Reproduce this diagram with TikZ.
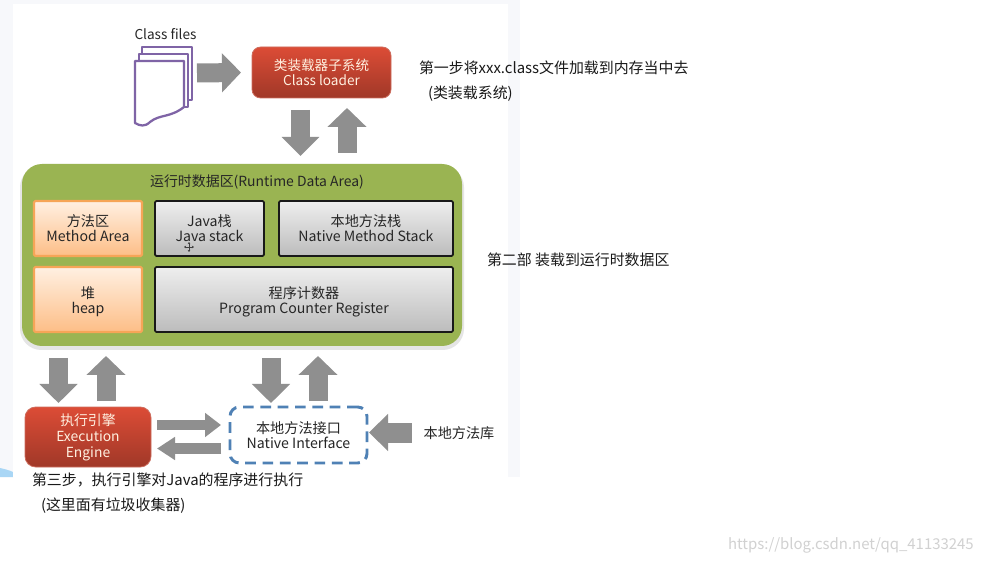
\documentclass[tikz,border=0pt]{standalone}
\usepackage{fontspec}
\setmainfont{Noto Sans CJK SC}
\usetikzlibrary{arrows.meta,shadings}
\definecolor{paneltint}{HTML}{F7F8FB}
\definecolor{patchblue}{HTML}{A9D6F5}
\definecolor{green1}{HTML}{9AB452}
\definecolor{arrowgrey}{HTML}{8F8F8F}
\definecolor{docpurple}{HTML}{7F64A6}
\definecolor{dashblue}{HTML}{4F81B5}
\definecolor{orangeedge}{HTML}{F6A557}
\definecolor{txt}{HTML}{262626}
\tikzset{
  dpx/.style 2 args={xshift=#1*.75pt,yshift=#2*-.75pt},
  base/.style={inner sep=0pt,outer sep=0pt,align=center,font=\fontsize{10.6}{11.4}\selectfont,text=txt},
  redfill/.style={base,rounded corners=6.5pt,top color={rgb,255:red,220;green,76;blue,54},bottom color={rgb,255:red,160;green,56;blue,40},draw={rgb,255:red,205;green,110;blue,95},line width=.6pt,text=white!88!orange},
  orangebox/.style={base,rounded corners=1pt,top color={rgb,255:red,255;green,240;blue,226},bottom color={rgb,255:red,253;green,190;blue,135},draw=orangeedge,line width=1.6pt},
  greybox/.style={base,rounded corners=1pt,top color={rgb,255:red,238;green,238;blue,238},bottom color={rgb,255:red,188;green,188;blue,188},draw=black!90,line width=1.3pt},
  note/.style={inner sep=0pt,outer sep=0pt,anchor=west,font=\fontsize{11.2}{12}\selectfont,text=black!90},
  bigarrow/.style n args={3}{draw=arrowgrey,line width=#1,-{Triangle[length=#3,width=#2]}},
  docpage/.style={draw=docpurple,line width=1.7pt,fill=white,line join=round},
}
\begin{document}
\begin{tikzpicture}[x=.75pt,y=-.75pt]
\useasboundingbox (0,0) rectangle (983,563);
\fill[white] (0,0) rectangle (983,563);
\fill[paneltint] (0,0) rectangle (520,477);
\fill[patchblue] (0,468) .. controls (4,469) and (9,470) .. (13,472) -- (13,477) -- (0,477) -- cycle;
\fill[white] (13,4) rectangle (508,477);

% class files icon
\draw[docpage] (142,47) -- (192,47) -- (192,100) -- (142,100) -- cycle;
\draw[docpage] (139,54) -- (188,54) -- (188,107) -- (139,107) -- cycle;
\draw[docpage] (135,61) -- (184,61) -- (184,107) .. controls (170,118) and (160,114) .. (150,122) .. controls (145,127) and (140,126) .. (135,123) -- cycle;
\node[inner sep=0pt,outer sep=0pt,minimum width=57*.75pt,minimum height=78*.75pt] (doc) at (163.5,86) {};
\node[base,font=\fontsize{10.2}{11.4}\selectfont] (files) at (165.5,34) {Class files};

% main boxes
\node[redfill,font=\fontsize{10.2}{11.6}\selectfont,minimum width=139*.75pt,minimum height=51*.75pt] (loader) at (321.5,72.5) {类装载器子系统\\Class loader};

\fill[black!10,rounded corners=16pt] (20,166) rectangle (464,350);
\node[base,fill=green1,rounded corners=15pt,minimum width=440*.75pt,minimum height=182*.75pt] (runtime) at (242,255) {};
\node[base,font=\fontsize{10.45}{11.4}\selectfont] (rtitle) at (257,182) {运行时数据区(Runtime Data Area)};

\node[orangebox,minimum width=108*.75pt,minimum height=55*.75pt] (method) at (88,228.5) {方法区\\Method Area};
\node[orangebox,minimum width=108*.75pt,minimum height=65*.75pt] (heap) at (88,299.5) {\rule{0pt}{12pt}堆\\heap};
\node[greybox,minimum width=109*.75pt,minimum height=55*.75pt] (jstack) at (209.5,228.5) {Java栈\\Java stack};
\node[greybox,minimum width=174*.75pt,minimum height=55*.75pt] (nstack) at (366,228.5) {本地方法栈\\Native Method Stack};
\node[greybox,minimum width=298*.75pt,minimum height=65*.75pt] (pcr) at (304,299.5) {\rule{0pt}{12pt}程序计数器\\Program Counter Register};

\node[redfill,font=\fontsize{10.4}{12}\selectfont,rounded corners=8pt,minimum width=126*.75pt,minimum height=60*.75pt] (exec) at (88,437) {执行引擎\\Execution\\Engine};
\node[base,draw=dashblue,line width=2.2pt,dash pattern=on 8pt off 5pt,rounded corners=7pt,fill=white,minimum width=137*.75pt,minimum height=56*.75pt] (native) at (298.5,435) {本地方法接口\\Native Interface};
\node[base] (lib) at (459,433) {本地方法库};

% move cursor
\coordinate (cur) at (189,247);
\draw[black!75,line width=.5pt,{Stealth[length=1.6pt,width=2pt]}-{Stealth[length=1.6pt,width=2pt]}] ([dpx={-5}{0}]cur) -- ([dpx={5}{0}]cur);
\draw[black!75,line width=.5pt,{Stealth[length=1.6pt,width=2pt]}-{Stealth[length=1.6pt,width=2pt]}] ([dpx={0}{-5}]cur) -- ([dpx={0}{5}]cur);

% block arrows
\draw[bigarrow={14.25pt}{28.5pt}{14.25pt}] ([dpx={5}{-13}]doc.east) -- ([dpx={-11}{0}]loader.west);
\draw[bigarrow={14.25pt}{27.5pt}{14.25pt}] ([dpx={-21}{12}]loader.south) -- ([dpx={58.5}{-8}]runtime.north);
\draw[bigarrow={14.25pt}{28.5pt}{14.25pt}] ([dpx={105}{-11}]runtime.north) -- ([dpx={25.5}{10}]loader.south);
\draw[bigarrow={14.25pt}{28pt}{14.25pt}] ([dpx={-183.5}{12}]runtime.south) -- ([dpx={-29.5}{-4}]exec.north);
\draw[bigarrow={14.25pt}{28.5pt}{14.25pt}] ([dpx={18}{-6}]exec.north) -- ([dpx={-136}{10}]runtime.south);
\draw[bigarrow={14.25pt}{28pt}{14.25pt}] ([dpx={29}{12}]runtime.south) -- ([dpx={-27.5}{-4}]native.north);
\draw[bigarrow={14.25pt}{28.5pt}{14.25pt}] ([dpx={19.5}{-6}]native.north) -- ([dpx={76}{10}]runtime.south);
\draw[bigarrow={7.5pt}{17.5pt}{12pt}] ([dpx={6}{-12}]exec.east) -- ([dpx={-9}{-10}]native.west);
\draw[bigarrow={8pt}{16.5pt}{13.5pt}] ([dpx={-9}{13.5}]native.west) -- ([dpx={6}{11.5}]exec.east);
\draw[bigarrow={15pt}{27pt}{14.25pt}] ([dpx={-12}{-0.5}]lib.west) -- ([dpx={2}{-2.5}]native.east);

% notes
\node[note] (n1) at (419,68) {第一步将xxx.class文件加载到内存当中去};
\node[note] (n2) at (428,94) {(类装载系统)};
\node[note] (n3) at (487,260) {第二部 装载到运行时数据区};
\node[note] (n4) at (32,480) {第三步，执行引擎对Java的程序进行执行};
\node[note] (n5) at (41,506) {(这里面有垃圾收集器)};
\node[inner sep=0pt,anchor=east,font=\fontsize{11.2}{13}\selectfont,text=black!18] (mark) at (974,545) {https://blog.csdn.net/qq\_41133245};
\end{tikzpicture}
\end{document}
